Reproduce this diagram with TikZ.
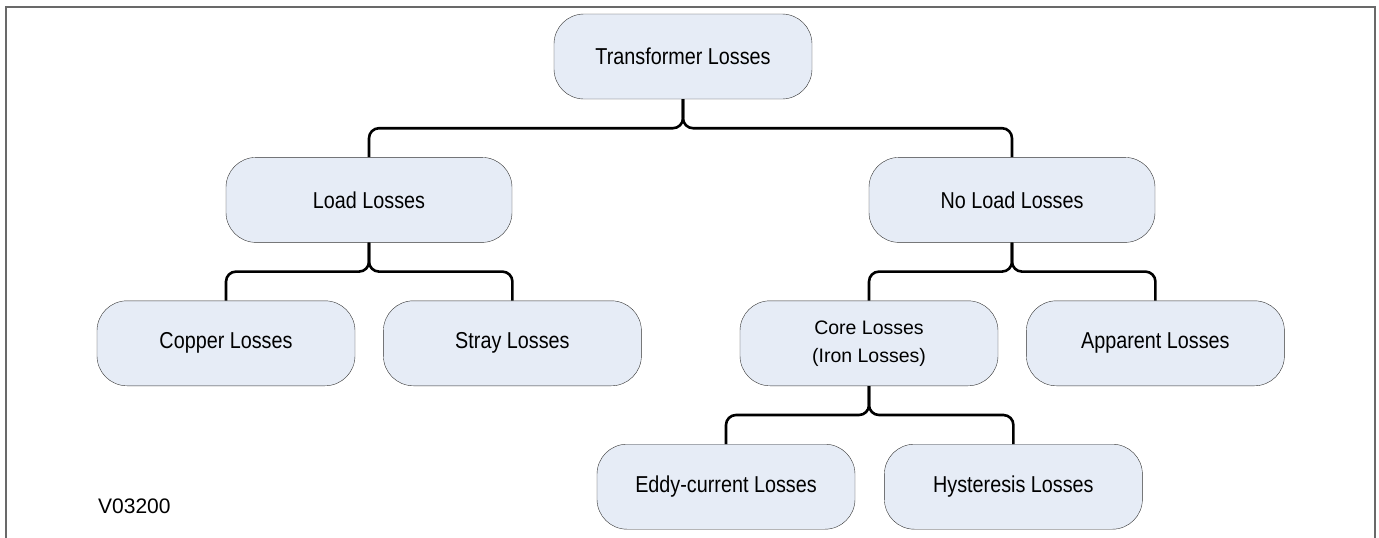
\documentclass[tikz,border=0pt]{standalone}
\usepackage{fontspec}
\setmainfont{Liberation Sans}
\newfontfamily\narrowfont[FakeStretch=0.86]{Liberation Sans}
\usepackage{xcolor}
\usepackage{tikz}
\usetikzlibrary{positioning}

\definecolor{boxblue}{RGB}{230,236,246}
\definecolor{framegray}{RGB}{105,105,105}

\begin{document}
\begin{tikzpicture}[
  node distance=58pt,
  box/.style={draw=black!80,fill=boxblue,rounded corners=30pt,minimum width=258pt,minimum height=85pt,inner sep=0pt,align=center,font=\narrowfont\fontsize{23}{28}\selectfont},
  widebox/.style={box,minimum width=286pt},
  link/.style={line width=2.6pt,rounded corners=10pt},
  frame/.style={draw=framegray,line width=2pt}
]
  \useasboundingbox (0,0) rectangle (1379pt,-538pt);
  \draw[frame] (5.5pt,-538pt) -- (5.5pt,-7pt) -- (1375pt,-7pt) -- (1375pt,-538pt);
  \node[box] (top) at (683pt,-56.5pt) {Transformer Losses};
  \node[widebox,below=of top,xshift=-314pt] (load) {Load Losses};
  \node[widebox,below=of top,xshift=329pt] (noload) {No Load Losses};
  \node[box,below=of load,xshift=-143pt] (copper) {Copper Losses};
  \node[box,right=28pt of copper] (stray) {Stray Losses};
  \node[box,below=of noload,xshift=-143pt,font=\fontsize{19.5}{28}\selectfont] (core) {Core Losses\\(Iron Losses)};
  \node[box,right=28pt of core] (apparent) {Apparent Losses};
  \node[box,below=of core,xshift=-143pt] (eddy) {Eddy-current Losses};
  \node[box,right=29pt of eddy] (hyst) {Hysteresis Losses};
  \node[anchor=west,inner sep=0pt,font=\fontsize{21}{24}\selectfont] (code) at (98pt,-506pt) {V03200};
  \draw[link] (top.south) -- ++(0,-29pt) -| (load.north);
  \draw[link] (top.south) -- ++(0,-29pt) -| (noload.north);
  \draw[link] (load.south) -- ++(0,-29pt) -| (copper.north);
  \draw[link] (load.south) -- ++(0,-29pt) -| (stray.north);
  \draw[link] (noload.south) -- ++(0,-29pt) -| (core.north);
  \draw[link] (noload.south) -- ++(0,-29pt) -| (apparent.north);
  \draw[link] (core.south) -- ++(0,-29pt) -| (eddy.north);
  \draw[link] (core.south) -- ++(0,-29pt) -| (hyst.north);
\end{tikzpicture}
\end{document}
